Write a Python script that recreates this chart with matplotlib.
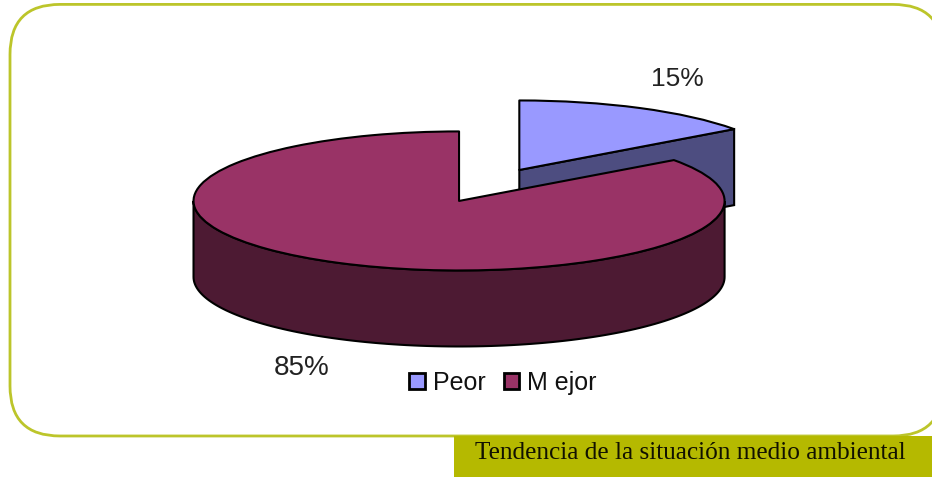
import matplotlib
matplotlib.use('Agg')
import matplotlib.pyplot as plt
from matplotlib.patches import FancyBboxPatch, Rectangle, Patch
import numpy as np

W, H = 932, 477

categories = ['Peor', 'Mejor']
legend_names = ['Peor', 'M ejor']
shares = [15, 85]
explode = [0.5, 0]
top_colors = ['#9999FF', '#993366']
side_colors = ['#4D4D80', '#4D1A33']

line_green = '#BCC52A'
banner_green = '#B5B900'
caption = 'Tendencia de la situación medio ambiental'

# how the flat pie sits on the picture, in pixels
cx, cy = 459, 201
rx, ry = 265.5, 69.5
depth = 76 / ry

fig = plt.figure(figsize=((W + 0.1) / 100, (H + 0.1) / 100), dpi=100, facecolor='white')

# frame and banner, in pixel units
bg = fig.add_axes([0, 0, 1, 1])
bg.set_xlim(0, W)
bg.set_ylim(H, 0)
bg.axis('off')
bg.add_patch(FancyBboxPatch((60, 54.5), 833, 331.5, boxstyle='round,pad=50,rounding_size=50',
                            fc='white', ec=line_green, lw=2))
bg.add_patch(Rectangle((454, 436), W - 454, H - 436, fc=banner_green, ec='none'))
bg.text(690, 453, caption, family='Liberation Serif', fontsize=18.2, color='#111100',
        ha='center', va='center')

# pie axes: one data unit is rx pixels across and ry pixels down
ax = fig.add_axes([0, 0, 1, 1])
ax.patch.set_alpha(0)
wedges, _ = ax.pie(shares, explode=explode, colors=top_colors, startangle=90, counterclock=False,
                   wedgeprops={'ec': 'black', 'lw': 1.5, 'joinstyle': 'round'})
ax.set_aspect('auto')
ax.set_xlim(-cx / rx, (W - cx) / rx)
ax.set_ylim((cy - H) / ry, cy / ry)
ax.axis('off')

# side walls worked out from the shares
edges = np.cumsum([0] + shares) / sum(shares) * 360
for i, wedge in enumerate(wedges):
    wedge.set_zorder(2 + 2 * i)
    start, end = edges[i], edges[i + 1]
    mid = np.radians((start + end) / 2)
    ox, oy = explode[i] * np.sin(mid), explode[i] * np.cos(mid)
    # cut face, only the small slice shows it
    if i == 0:
        t = np.radians(end)
        xs = [ox, ox + np.sin(t), ox + np.sin(t), ox]
        ys = [oy, oy + np.cos(t), oy + np.cos(t) - depth, oy - depth]
        ax.fill(xs, ys, fc=side_colors[i], ec='black', lw=1.5, zorder=1 + 2 * i)
    # rim, front half only
    a, b = max(start, 90), min(end, 270)
    if a < b:
        t = np.radians(np.linspace(a, b, 120))
        xs = np.r_[ox + np.sin(t), (ox + np.sin(t))[::-1]]
        ys = np.r_[oy + np.cos(t), (oy + np.cos(t))[::-1] - depth]
        ax.fill(xs, ys, fc=side_colors[i], ec='black', lw=1.5, zorder=1 + 2 * i)

# percent labels
bg.set_zorder(0)
ax.set_zorder(1)
fig.text(677.5 / W, 1 - 79 / H, f'{shares[0]}%', family='Liberation Sans', fontsize=19, color='#222222',
         ha='center', va='center')
fig.text(302 / W, 1 - 368 / H, f'{shares[1]}%', family='Liberation Sans', fontsize=20, color='#222222',
         ha='center', va='center')

handles = [Patch(fc=c, ec='black', lw=2) for c in top_colors]
fig.legend(handles, legend_names, ncols=2, loc='center', bbox_to_anchor=(503 / W, 1 - 383 / H),
           frameon=False, prop={'family': 'Liberation Sans', 'size': 18}, handlelength=0.62, handleheight=0.62,
           handletextpad=0.32, columnspacing=0.72, labelcolor='#111111', borderpad=0, borderaxespad=0)

fig.savefig('out.png', dpi=100)
